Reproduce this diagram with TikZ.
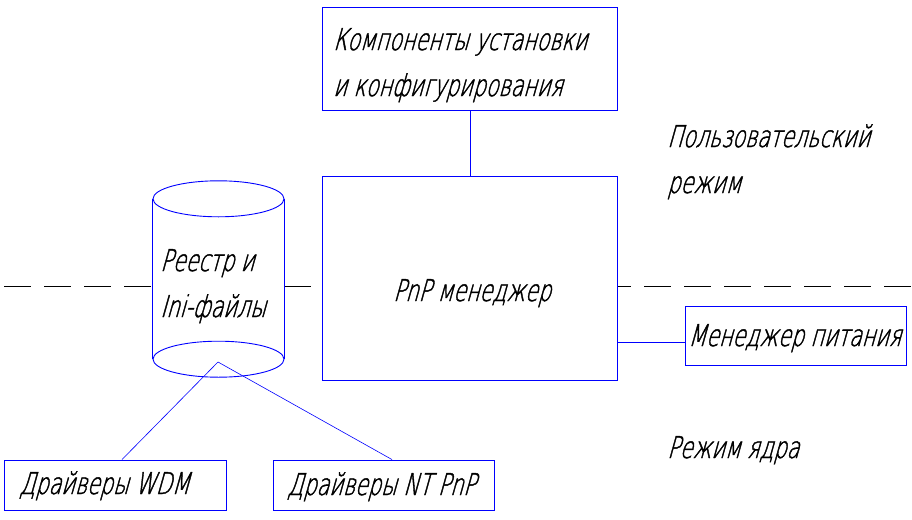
\documentclass[tikz,border=0pt]{standalone}
\usepackage{fontspec}
\usepackage{tikz}
\usetikzlibrary{positioning}
\newfontfamily\gostfont[FakeSlant=0.28,FakeStretch=0.69,FakeBold=1.3]{DejaVu Sans ExtraLight}
\tikzset{
    block/.style={draw=blue, fill=white, line width=0.9pt, inner sep=0pt},
    label/.style={font=\gostfont\fontsize{30}{46}\selectfont, align=left, inner sep=0pt, anchor=base west},
    link/.style={draw=blue, line width=0.9pt}
}

\begin{document}
\begin{tikzpicture}[x=1pt, y=-1pt]
        \useasboundingbox (0,0) rectangle (912,519);

        % Граница режимов
        \draw[black, line width=0.9pt, dash pattern=on 27pt off 13pt, dash phase=-4pt] (0,286) -- (912,286);

        % Блоки
        \node[block, minimum width=295pt, minimum height=103pt] (conf) at (470,59) {};
        \node[label] at (333,96) {Компоненты установки\\и конфигурирования};
        \node[block, minimum width=295pt, minimum height=204pt] (pnp) at (470,278) {};
        \node[label, anchor=base] at (472,301) {PnP менеджер};
        \node[block, minimum width=221pt, minimum height=59pt] (power) at (795.5,335.5) {};
        \node[label] at (688,346) {Менеджер питания};
        \node[block, minimum width=222pt, minimum height=50pt] (wdm) at (115,485) {};
        \node[label] at (19,494) {Драйверы WDM};
        \node[block, minimum width=221pt, minimum height=50pt] (ntpnp) at (383.5,485) {};
        \node[label] at (287,495) {Драйверы NT PnP};

        % Реестр (цилиндр)
        \node[minimum width=131pt, minimum height=160pt, inner sep=0pt] (reg) at (218.5,279) {};
        \fill[white] (reg.north west) rectangle (reg.south east);
        \draw[link] (reg.north west) -- (reg.south west) (reg.north east) -- (reg.south east);
        \draw[link, fill=white] (reg.north) ellipse [x radius=65.5pt, y radius=18pt];
        \draw[link, fill=white] (reg.south) ellipse [x radius=65.5pt, y radius=18pt];
        \node[label] at (160,317) {Реестр и\\Ini-файлы};
        \coordinate (hub) at (218,362);

        % Подписи режимов
        \node[label] at (667,193) {Пользовательский\\режим};
        \node[label] at (667,458) {Режим ядра};

        % Связи
        \draw[link] (conf) -- (pnp);
        \coordinate[yshift=-6.5pt] (pw) at (power.west);
        \draw[link] (pnp.east |- pw) -- (pw);
        \draw[link, line width=0.6pt] ([xshift=7pt]wdm.north) -- (hub);
        \draw[link, line width=0.6pt] ([xshift=8.5pt]ntpnp.north) -- (hub);
    \end{tikzpicture}
\end{document}
